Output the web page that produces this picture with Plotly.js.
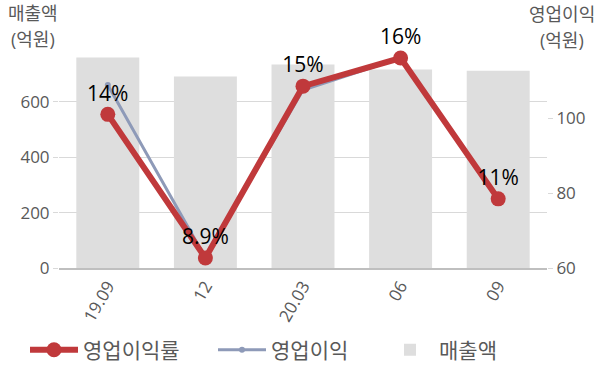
<!DOCTYPE html>
<html><head><meta charset="utf-8">
<script src="https://cdn.plot.ly/plotly-3.0.1.min.js"></script>
<style>body{margin:0;}#c{width:600px;height:383px;}</style>
</head><body><div id="c"></div>
<script>
const categories = ['19.09', '12', '20.03', '06', '09'];
const sales = [761, 692, 735, 717, 713];
const opProfit = [108.8, 62.7, 107.5, 116, 78.1];
const opMargin = [14, 8.9, 15, 16, 11];
const marginLabels = ['14%', '8.9%', '15%', '16%', '11%'];

const FONT = '"Open Sans", "Noto Sans CJK KR", sans-serif';
const traces = [
  {type:'bar', name:'매출액', x:categories, y:sales, marker:{color:'#dedede'}, legend:'legend3'},
  {type:'scatter', mode:'lines+markers', name:'영업이익률', x:categories, y:opMargin, yaxis:'y3', legend:'legend',
   line:{color:'#c0393b', width:6}, marker:{color:'#c0393b', size:15}},
  {type:'scatter', mode:'lines+markers', name:'영업이익', x:categories, y:opProfit, yaxis:'y2', legend:'legend2',
   line:{color:'#8e9ab8', width:3}, marker:{color:'#8e9ab8', size:6}},
  {type:'scatter', mode:'markers+text', showlegend:false, x:categories, y:opMargin, yaxis:'y3',
   marker:{size:12, opacity:0},
   text:marginLabels, textposition:'top center', textfont:{size:21, color:'#000', family:FONT}, cliponaxis:false}
];
const legBase = {orientation:'h', xref:'container', yref:'container', y:0.086, yanchor:'middle', xanchor:'left',
  bgcolor:'rgba(0,0,0,0)', font:{size:21, color:'#595959', family:FONT}, itemwidth:48};
const layout = {
  width:600, height:383,
  margin:{l:59, r:53, t:48, b:115},
  paper_bgcolor:'#fff', plot_bgcolor:'#fff',
  font:{family:FONT, size:17, color:'#595959'},
  bargap:0.355,
  showlegend:true,
  xaxis:{type:'category', tickangle:-60, tickfont:{size:17, color:'#595959'}, showline:true, linecolor:'#bfbfbf', linewidth:1.5, ticks:''},
  yaxis:{range:[0,795], dtick:200, showgrid:true, gridcolor:'#d9d9d9', zeroline:false,
         ticks:'outside', ticklen:5, tickcolor:'#d9d9d9', tickfont:{size:17, color:'#595959'}},
  yaxis2:{overlaying:'y', side:'right', range:[60,118.7], dtick:20, showgrid:false, zeroline:false,
          ticks:'outside', ticklen:5, tickcolor:'#d9d9d9', tickfont:{size:17, color:'#595959'}},
  yaxis3:{overlaying:'y', range:[8.545,16.355], visible:false},
  legend:Object.assign({}, legBase, {x:25/600}),
  legend2:Object.assign({}, legBase, {x:213/600}),
  legend3:Object.assign({}, legBase, {x:381/600}),
  annotations:[
    {xref:'paper', yref:'paper', x:-0.054, y:1.1, yanchor:'bottom', xanchor:'center', showarrow:false, borderpad:0,
     text:'매출액', font:{size:18, color:'#595959'}},
    {xref:'paper', yref:'paper', x:-0.054, y:1.1, yanchor:'top', xanchor:'center', showarrow:false, borderpad:0,
     text:'(억원)', font:{size:18, color:'#595959'}},
    {xref:'paper', yref:'paper', x:1.03, y:1.095, yanchor:'bottom', xanchor:'center', showarrow:false, borderpad:0,
     text:'영업이익', font:{size:18, color:'#595959'}},
    {xref:'paper', yref:'paper', x:1.03, y:1.095, yanchor:'top', xanchor:'center', showarrow:false, borderpad:0,
     text:'(억원)', font:{size:18, color:'#595959'}}
  ]
};
Plotly.newPlot('c', traces, layout, {displayModeBar:false, staticPlot:true});
</script>
</body></html>
